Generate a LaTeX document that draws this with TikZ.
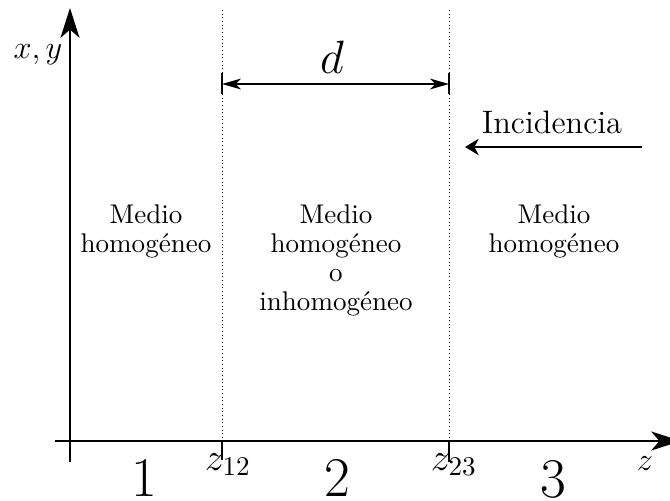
\documentclass[tikz,border=0pt]{standalone}
\usepackage{fontspec}
\usetikzlibrary{arrows.meta}
\begin{document}
\begin{tikzpicture}[x=0.37pt,y=-0.37pt,
  axis/.style={line width=0.8pt,-{Stealth[length=11pt,width=7pt,inset=3pt]}},
  iface/.style={line width=0.35pt,densely dotted},
  tickline/.style={line width=0.4pt},
  dimline/.style={line width=0.45pt,{Stealth[length=7pt,width=4pt,inset=2pt]}-{Stealth[length=7pt,width=4pt,inset=2pt]}},
  incline/.style={line width=0.8pt,-{Stealth[length=5pt,width=6pt,inset=1.5pt]}},
  medium/.style={align=center,inner sep=0pt,anchor=north,font=\fontsize{10}{10.8}\selectfont},
  lbl/.style={inner sep=0pt,anchor=base}]
\clip (0,0) rectangle (670,500);
% axes
\coordinate (vb) at (70,462);
\coordinate (vt) at (70,8);
\coordinate (hl) at (55,441);
\coordinate (hr) at (681,441);
\draw[axis] (vb) -- (vt);
\draw[axis] (hl) -- (hr);
% interfaces
\coordinate (a1) at (222,10);
\coordinate (a2) at (222,441);
\coordinate (a3) at (222,460);
\coordinate (b1) at (449,10);
\coordinate (b2) at (449,441);
\coordinate (b3) at (449,462);
\draw[iface] (a1) -- (a2);
\draw[tickline] (a2) -- (a3);
\draw[iface] (b1) -- (b2);
\draw[tickline] (b2) -- (b3);
% thickness d
\coordinate (d1) at (222,84);
\coordinate (d2) at (449,84);
\coordinate (d1t) at (222,73);
\coordinate (d1b) at (222,94);
\coordinate (d2t) at (449,73);
\coordinate (d2b) at (449,94);
\draw[dimline] (d1) -- (d2);
\draw[tickline] (d1t) -- (d1b);
\draw[tickline] (d2t) -- (d2b);
\node[lbl,font=\LARGE] (d) at (332,73) {$d$};
% incidence
\node[lbl,font=\large] (inc) at (552,133) {Incidencia};
\coordinate (i1) at (642,147);
\coordinate (i2) at (465,147);
\draw[incline] (i1) -- (i2);
% axis labels
\node[lbl,font=\large] (xy) at (38,58) {$x,y$};
\node[lbl,font=\large] (z) at (645,470) {$z$};
\node[lbl,font=\Large] (z12) at (228,470) {$z_{12}$};
\node[lbl,font=\Large] (z23) at (454,470) {$z_{23}$};
% region numbers
\node[lbl,font=\huge] (r1) at (144,496) {1};
\node[lbl,font=\huge] (r2) at (337,496) {2};
\node[lbl,font=\huge] (r3) at (553,497) {3};
% media
\node[medium] (m1) at (146,204) {Medio\\homogéneo};
\node[medium] (m2) at (336,204) {Medio\\homogéneo\\o\\inhomogéneo};
\node[medium] (m3) at (554,204) {Medio\\homogéneo};
\end{tikzpicture}
\end{document}
